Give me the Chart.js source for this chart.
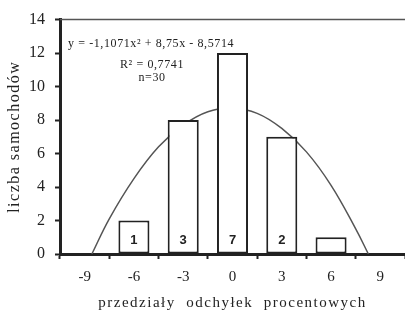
<!DOCTYPE html>
<html>
<head>
<meta charset="utf-8">
<script src="https://cdn.jsdelivr.net/npm/chart.js@4"></script>
<style>
  html, body { margin: 0; padding: 0; background: #fff; }
  #wrap { width: 405px; height: 326px; }
</style>
</head>
<body>
<div id="wrap"><canvas id="histChart" width="405" height="326"></canvas></div>
<script>
// dane
const classLabels = [-9, -6, -3, 0, 3, 6, 9];
const barX = [-6, -3, 0, 3, 6];
const barCounts = [2, 8, 12, 7, 1];
const barNotes = ["1", "3", "7", "2", ""];
const yTicks = [0, 2, 4, 6, 8, 10, 12, 14];
// linia trendu
const curveX = [-8.56, -7.5, -6, -4.5, -3, -1.5, 0, 1.5, 3, 4.5, 6, 7.5, 8.27];
const curveY = [0, 2.1, 4.5, 6.4, 7.7, 8.5, 8.7, 8.4, 7.5, 6.1, 4.1, 1.5, 0];

const eqText = "y = -1,1071x\u00b2 + 8,75x - 8,5714";
const r2Text = "R\u00b2 = 0,7741";
const nText = "n=30";
const xTitle = "przedziały  odchyłek  procentowych";
const yTitle = "liczba samochodów";

const serif = "'Liberation Serif', 'Times New Roman', serif";
const ink = "#222";

// napisy, ramka górna i tytuły osi
const extrasPlugin = {
    id: "extras",
    afterDatasetsDraw(chart) {
        const ctx = chart.ctx;
        const meta = chart.getDatasetMeta(0);
        const ys = chart.scales.y;
        ctx.save();
        ctx.font = "bold 13px 'Liberation Sans', Arial, sans-serif";
        ctx.fillStyle = ink;
        ctx.textAlign = "center";
        ctx.textBaseline = "middle";
        meta.data.forEach((bar, i) => {
            ctx.fillText(barNotes[i], bar.x, ys.getPixelForValue(0.8));
        });
        ctx.restore();
    },
    afterDraw(chart) {
        const ctx = chart.ctx;
        const area = chart.chartArea;
        ctx.save();
        // górna linia
        ctx.strokeStyle = "#555";
        ctx.lineWidth = 1.5;
        ctx.beginPath();
        ctx.moveTo(area.left, area.top);
        ctx.lineTo(area.right, area.top);
        ctx.stroke();

        ctx.fillStyle = ink;
        ctx.textBaseline = "middle";
        ctx.font = "12px " + serif;
        ctx.letterSpacing = "0.6px";
        ctx.textAlign = "left";
        ctx.fillText(eqText, area.left + 8, area.top + 24);
        ctx.textAlign = "center";
        ctx.fillText(r2Text, area.left + 92, area.top + 45);
        ctx.fillText(nText, area.left + 92, area.top + 58);

        // tytuł osi X
        ctx.font = "15px " + serif;
        ctx.letterSpacing = "1.5px";
        ctx.fillText(xTitle, (area.left + area.right) / 2, 303);
        // tytuł osi Y
        ctx.font = "16px " + serif;
        ctx.letterSpacing = "1.5px";
        ctx.translate(15, (area.top + area.bottom) / 2);
        ctx.rotate(-Math.PI / 2);
        ctx.fillText(yTitle, 0, 0);
        ctx.restore();
    }
};

const ctx = document.getElementById("histChart").getContext("2d");
new Chart(ctx, {
    type: "bar",
    data: {
        datasets: [
            {
                type: "bar",
                data: barX.map((x, i) => ({ x: x, y: barCounts[i] })),
                backgroundColor: "#fff",
                borderColor: ink,
                borderWidth: 2,
                borderSkipped: false,
                barPercentage: 0.63,
                categoryPercentage: 1,
                order: 0
            },
            {
                type: "line",
                data: curveX.map((x, i) => ({ x: x, y: curveY[i] })),
                borderColor: "#555",
                borderWidth: 1.5,
                pointRadius: 0,
                tension: 0.4,
                fill: false,
                order: 1
            }
        ]
    },
    options: {
        responsive: false,
        animation: false,
        devicePixelRatio: 1,
        layout: { padding: { top: 15, right: 0, bottom: 0, left: 0 } },
        plugins: {
            legend: { display: false },
            tooltip: { enabled: false }
        },
        scales: {
            x: {
                type: "linear",
                min: -10.5,
                max: 10.5,
                offset: false,
                afterBuildTicks: (s) => { s.ticks = classLabels.map(v => ({ value: v })); },
                afterFit: (s) => { s.height = 72; },
                grid: {
                    offset: true,
                    drawOnChartArea: false,
                    drawTicks: true,
                    tickLength: 5,
                    tickWidth: 2,
                    tickColor: ink
                },
                border: { display: true, color: ink, width: 3 },
                ticks: {
                    padding: 9,
                    color: ink,
                    maxRotation: 0,
                    font: { family: serif, size: 15 }
                }
            },
            y: {
                min: 0,
                max: 14,
                afterBuildTicks: (s) => { s.ticks = yTicks.map(v => ({ value: v })); },
                afterFit: (s) => { s.width = 60; },
                grid: {
                    drawOnChartArea: false,
                    drawTicks: true,
                    tickLength: 5,
                    tickWidth: 2,
                    tickColor: ink
                },
                border: { display: true, color: ink, width: 3 },
                ticks: {
                    padding: 10,
                    color: ink,
                    font: { family: serif, size: 16 }
                }
            }
        }
    },
    plugins: [extrasPlugin]
});
</script>
</body>
</html>
